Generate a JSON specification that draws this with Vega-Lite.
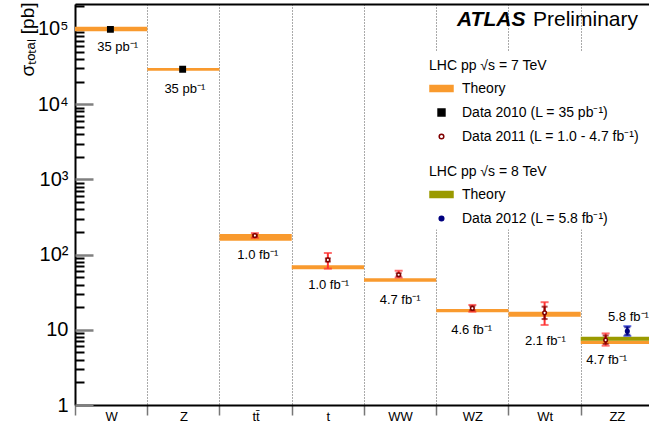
{
  "$schema": "https://vega.github.io/schema/vega-lite/v6.json",
  "width": 574,
  "height": 401,
  "autosize": {"type": "none"},
  "padding": {"left": 75, "top": 4, "right": 0, "bottom": 22},
  "background": "white",
  "config": {
    "font": "Liberation Sans",
    "view": {"stroke": null},
    "axis": {"labelFont": "Liberation Sans", "titleFont": "Liberation Sans"},
    "legend": {"labelFont": "Liberation Sans", "titleFont": "Liberation Sans"}
  },
  "datasets": {
    "theory7": [
      {"proc": "W", "x0": 0, "x1": 1, "lo": 93000, "hi": 107000},
      {"proc": "Z", "x0": 1, "x1": 2, "lo": 27900, "hi": 30300},
      {"proc": "tt", "x0": 2, "x1": 3, "lo": 153, "hi": 188},
      {"proc": "t", "x0": 3, "x1": 4, "lo": 64, "hi": 72},
      {"proc": "WW", "x0": 4, "x1": 5, "lo": 43.6, "hi": 48.4},
      {"proc": "WZ", "x0": 5, "x1": 6, "lo": 17.1, "hi": 18.9},
      {"proc": "Wt", "x0": 6, "x1": 7, "lo": 14.9, "hi": 17.4},
      {"proc": "ZZ", "x0": 7, "x1": 8, "lo": 6.47, "hi": 7.17}
    ],
    "theory8": [
      {"proc": "ZZ", "x0": 7, "x1": 8, "lo": 7.17, "hi": 8.09}
    ],
    "data7": [
      {"proc": "W", "year": 2010, "series": "Data 2010 (L = 35 pb⁻¹)", "pos": 0.49, "val": 99000},
      {"proc": "Z", "year": 2010, "series": "Data 2010 (L = 35 pb⁻¹)", "pos": 1.49, "val": 29100},
      {"proc": "tt", "year": 2011, "series": "Data 2011 (L = 1.0 - 4.7 fb⁻¹)", "pos": 2.49, "val": 179, "slo": 174, "shi": 184, "tlo": 167, "thi": 193},
      {"proc": "t", "year": 2011, "series": "Data 2011 (L = 1.0 - 4.7 fb⁻¹)", "pos": 3.5, "val": 85, "slo": 81, "shi": 89, "tlo": 65, "thi": 105},
      {"proc": "WW", "year": 2011, "series": "Data 2011 (L = 1.0 - 4.7 fb⁻¹)", "pos": 4.48, "val": 54, "slo": 51.5, "shi": 56.5, "tlo": 49.5, "thi": 61},
      {"proc": "WZ", "year": 2011, "series": "Data 2011 (L = 1.0 - 4.7 fb⁻¹)", "pos": 5.5, "val": 19.3, "slo": 18.2, "shi": 20.5, "tlo": 17.4, "thi": 21.4},
      {"proc": "Wt", "year": 2011, "series": "Data 2011 (L = 1.0 - 4.7 fb⁻¹)", "pos": 6.5, "val": 16.8, "slo": 13.9, "shi": 20.3, "tlo": 11.6, "thi": 23.3},
      {"proc": "ZZ", "year": 2011, "series": "Data 2011 (L = 1.0 - 4.7 fb⁻¹)", "pos": 7.345, "val": 7.3, "slo": 6.5, "shi": 8.4, "tlo": 6.15, "thi": 8.95}
    ],
    "data8": [
      {"proc": "ZZ", "year": 2012, "series": "Data 2012 (L = 5.8 fb⁻¹)", "pos": 7.645, "val": 9.6, "slo": 8.6, "shi": 10.8, "tlo": 8.3, "thi": 11.2}
    ],
    "lumi": [
      {"label": "35 pb⁻¹", "pos": 0.59, "y": 56800},
      {"label": "35 pb⁻¹", "pos": 1.52, "y": 15900},
      {"label": "1.0 fb⁻¹", "pos": 2.53, "y": 99},
      {"label": "1.0 fb⁻¹", "pos": 3.51, "y": 39.4},
      {"label": "4.7 fb⁻¹", "pos": 4.5, "y": 24.9},
      {"label": "4.6 fb⁻¹", "pos": 5.49, "y": 9.93},
      {"label": "2.1 fb⁻¹", "pos": 6.51, "y": 7.1},
      {"label": "4.7 fb⁻¹", "pos": 7.36, "y": 3.97},
      {"label": "5.8 fb⁻¹", "pos": 7.66, "y": 14.8}
    ]
  },
  "resolve": {
    "scale": {"shape": "independent", "fill": "independent", "stroke": "independent"},
    "axis": {"x": "independent", "y": "independent"}
  },
  "layer": [
    {
      "data": {"name": "theory7"},
      "mark": {"type": "rect", "color": "#f99a2e", "clip": true},
      "encoding": {
        "x": {"field": "x0", "type": "quantitative",
          "scale": {"domain": [0, 7.945], "nice": false, "zero": false},
          "axis": {"orient": "bottom", "values": [0, 1, 2, 3, 4, 5, 6, 7], "labels": false, "ticks": true, "tickSize": 10, "tickColor": "#777777", "tickWidth": 1.5, "grid": true, "gridDash": [1, 2], "gridColor": "#555555", "gridWidth": 1, "domain": true, "domainColor": "black", "domainWidth": 2, "title": null}},
        "x2": {"field": "x1"},
        "y": {"field": "lo", "type": "quantitative",
          "scale": {"type": "log", "domain": [1, 215000], "nice": false},
          "axis": {"orient": "left", "values": [1, 10, 100, 1000, 10000, 100000],
            "labelExpr": "datum.value == 1 ? '1' : datum.value == 10 ? '10' : datum.value == 100 ? '10²' : datum.value == 1000 ? '10³' : datum.value == 10000 ? '10⁴' : '10⁵'",
            "labelFontSize": 20, "labelColor": "black", "labelPadding": 7, "labelBaseline": "middle",
            "ticks": false,
            "domain": true, "domainColor": "black", "domainWidth": 2, "grid": false,
            "title": "σₜₒₜₐₗ [pb]", "titleFontSize": 19, "titleFontWeight": "normal", "titleColor": "black",
            "titleX": -48, "titleY": -2, "titleAlign": "right", "titleAngle": -90, "titleBaseline": "middle"}},
        "y2": {"field": "hi"}
      }
    },
    {
      "data": {"name": "theory8"},
      "mark": {"type": "rect", "color": "#9a9a00", "clip": true},
      "encoding": {
        "x": {"field": "x0", "type": "quantitative",
          "axis": {"orient": "bottom", "values": [0.5, 1.5, 2.5, 3.5, 4.5, 5.5, 6.5, 7.5],
            "labelExpr": "['W', 'Z', 'tt̄', 't', 'WW', 'WZ', 'Wt', 'ZZ'][floor(datum.value)]",
            "ticks": false, "domain": false, "grid": false, "labelFontSize": 13, "labelPadding": 5, "labelColor": "black", "labelFlush": false, "title": null}},
        "x2": {"field": "x1"},
        "y": {"field": "lo", "type": "quantitative", "axis": null},
        "y2": {"field": "hi"}
      }
    },
    {
      "data": {"name": "data7"},
      "transform": [{"filter": "datum.year == 2011"}],
      "mark": {"type": "errorbar", "ticks": true, "size": 8, "thickness": 2, "color": "#ff3030"},
      "encoding": {
        "x": {"field": "pos", "type": "quantitative", "axis": null},
        "y": {"field": "tlo", "type": "quantitative", "axis": null},
        "y2": {"field": "thi"}
      }
    },
    {
      "data": {"name": "data7"},
      "transform": [{"filter": "datum.year == 2011"}],
      "mark": {"type": "errorbar", "ticks": true, "size": 6, "thickness": 2, "color": "#8b0000"},
      "encoding": {
        "x": {"field": "pos", "type": "quantitative", "axis": null},
        "y": {"field": "slo", "type": "quantitative", "axis": null},
        "y2": {"field": "shi"}
      }
    },
    {
      "data": {"name": "data8"},
      "mark": {"type": "errorbar", "ticks": true, "size": 8, "thickness": 2, "color": "#2b3bd6"},
      "encoding": {
        "x": {"field": "pos", "type": "quantitative", "axis": null},
        "y": {"field": "tlo", "type": "quantitative", "axis": null},
        "y2": {"field": "thi"}
      }
    },
    {
      "data": {"name": "data8"},
      "mark": {"type": "errorbar", "ticks": true, "size": 6, "thickness": 2, "color": "#00007f"},
      "encoding": {
        "x": {"field": "pos", "type": "quantitative", "axis": null},
        "y": {"field": "slo", "type": "quantitative", "axis": null},
        "y2": {"field": "shi"}
      }
    },
    {
      "data": {"name": "data7"},
      "mark": {"type": "point", "filled": true, "size": 324, "strokeWidth": 1.5, "opacity": 1},
      "encoding": {
        "x": {"field": "pos", "type": "quantitative", "axis": null},
        "y": {"field": "val", "type": "quantitative", "axis": null},
        "shape": {"field": "series", "type": "nominal",
          "scale": {"domain": ["Theory", "Data 2010 (L = 35 pb⁻¹)", "Data 2011 (L = 1.0 - 4.7 fb⁻¹)"],
            "range": ["M-1,-0.27L1,-0.27L1,0.27L-1,0.27Z", "M-0.3,-0.3L0.3,-0.3L0.3,0.3L-0.3,0.3Z", "M0.2,0A0.2,0.2 0 1,1 -0.2,0A0.2,0.2 0 1,1 0.2,0Z"]},
          "legend": {"title": "LHC pp √s = 7 TeV", "orient": "none", "legendX": 346, "legendY": 47, "padding": 8, "fillColor": "white", "symbolSize": 529, "symbolStrokeWidth": 1.5, "labelFontSize": 14, "labelColor": "black", "labelLimit": 400, "labelOffset": 8, "titleFontSize": 14, "titleFontWeight": "normal", "titleColor": "black", "titlePadding": 3, "rowPadding": 4, "titleLimit": 400}},
        "fill": {"field": "series", "type": "nominal",
          "scale": {"domain": ["Theory", "Data 2010 (L = 35 pb⁻¹)", "Data 2011 (L = 1.0 - 4.7 fb⁻¹)"], "range": ["#f99a2e", "black", "white"]},
          "legend": {"title": "LHC pp √s = 7 TeV", "orient": "none", "legendX": 346, "legendY": 47, "padding": 8, "fillColor": "white", "symbolSize": 529, "symbolStrokeWidth": 1.5, "labelFontSize": 14, "labelColor": "black", "labelLimit": 400, "labelOffset": 8, "titleFontSize": 14, "titleFontWeight": "normal", "titleColor": "black", "titlePadding": 3, "rowPadding": 4, "titleLimit": 400}},
        "stroke": {"field": "series", "type": "nominal",
          "scale": {"domain": ["Theory", "Data 2010 (L = 35 pb⁻¹)", "Data 2011 (L = 1.0 - 4.7 fb⁻¹)"], "range": ["#f99a2e", "black", "#800000"]},
          "legend": {"title": "LHC pp √s = 7 TeV", "orient": "none", "legendX": 346, "legendY": 47, "padding": 8, "fillColor": "white", "symbolSize": 529, "symbolStrokeWidth": 1.5, "labelFontSize": 14, "labelColor": "black", "labelLimit": 400, "labelOffset": 8, "titleFontSize": 14, "titleFontWeight": "normal", "titleColor": "black", "titlePadding": 3, "rowPadding": 4, "titleLimit": 400}}
      }
    },
    {
      "data": {"name": "data8"},
      "mark": {"type": "point", "filled": true, "size": 324, "strokeWidth": 1.5, "opacity": 1},
      "encoding": {
        "x": {"field": "pos", "type": "quantitative", "axis": null},
        "y": {"field": "val", "type": "quantitative", "axis": null},
        "shape": {"field": "series", "type": "nominal",
          "scale": {"domain": ["Theory", "Data 2012 (L = 5.8 fb⁻¹)"],
            "range": ["M-1,-0.27L1,-0.27L1,0.27L-1,0.27Z", "M0.2,0A0.2,0.2 0 1,1 -0.2,0A0.2,0.2 0 1,1 0.2,0Z"]},
          "legend": {"title": ["", "LHC pp √s = 8 TeV"], "titleLineHeight": 10.5, "orient": "none", "legendX": 350, "legendY": 146.5, "padding": 4, "fillColor": "white", "symbolSize": 529, "symbolStrokeWidth": 1.5, "labelFontSize": 14, "labelColor": "black", "labelLimit": 400, "labelOffset": 8, "titleFontSize": 14, "titleFontWeight": "normal", "titleColor": "black", "titlePadding": 3, "rowPadding": 4, "titleLimit": 400}},
        "fill": {"field": "series", "type": "nominal",
          "scale": {"domain": ["Theory", "Data 2012 (L = 5.8 fb⁻¹)"], "range": ["#9a9a00", "#00007f"]},
          "legend": {"title": ["", "LHC pp √s = 8 TeV"], "titleLineHeight": 10.5, "orient": "none", "legendX": 350, "legendY": 146.5, "padding": 4, "fillColor": "white", "symbolSize": 529, "symbolStrokeWidth": 1.5, "labelFontSize": 14, "labelColor": "black", "labelLimit": 400, "labelOffset": 8, "titleFontSize": 14, "titleFontWeight": "normal", "titleColor": "black", "titlePadding": 3, "rowPadding": 4, "titleLimit": 400}},
        "stroke": {"field": "series", "type": "nominal",
          "scale": {"domain": ["Theory", "Data 2012 (L = 5.8 fb⁻¹)"], "range": ["#9a9a00", "#00007f"]},
          "legend": {"title": ["", "LHC pp √s = 8 TeV"], "titleLineHeight": 10.5, "orient": "none", "legendX": 350, "legendY": 146.5, "padding": 4, "fillColor": "white", "symbolSize": 529, "symbolStrokeWidth": 1.5, "labelFontSize": 14, "labelColor": "black", "labelLimit": 400, "labelOffset": 8, "titleFontSize": 14, "titleFontWeight": "normal", "titleColor": "black", "titlePadding": 3, "rowPadding": 4, "titleLimit": 400}}
      }
    },
    {
      "data": {"name": "lumi"},
      "mark": {"type": "text", "fontSize": 13, "color": "black", "align": "center", "baseline": "middle"},
      "encoding": {
        "x": {"field": "pos", "type": "quantitative",
          "axis": {"orient": "top", "domain": true, "domainColor": "black", "domainWidth": 2, "ticks": false, "labels": false, "grid": false, "title": null}},
        "y": {"field": "y", "type": "quantitative",
          "axis": {"orient": "left", "offset": -18, "values": [1, 10, 100, 1000, 10000, 100000], "labels": false, "ticks": true, "tickSize": 18, "tickColor": "#808080", "tickWidth": 2.5, "domain": false, "grid": false, "title": null}},
        "text": {"field": "label"}
      }
    },
    {
      "data": {"values": [{"label": "ATLAS", "pos": 5.287, "y": 131800}]},
      "mark": {"type": "text", "fontSize": 21, "fontWeight": "bold", "fontStyle": "italic", "color": "black", "align": "left", "baseline": "middle"},
      "encoding": {
        "x": {"field": "pos", "type": "quantitative", "axis": null},
        "y": {"field": "y", "type": "quantitative", "axis": null},
        "text": {"field": "label"}
      }
    },
    {
      "data": {"values": [{"label": "Preliminary", "pos": 6.339, "yv": 131800}]},
      "mark": {"type": "text", "fontSize": 21, "color": "black", "align": "left", "baseline": "middle"},
      "encoding": {
        "x": {"field": "pos", "type": "quantitative", "axis": null},
        "y": {"field": "yv", "type": "quantitative",
          "axis": {"orient": "left", "offset": -9, "values": [2, 3, 4, 5, 6, 7, 8, 9, 20, 30, 40, 50, 60, 70, 80, 90, 200, 300, 400, 500, 600, 700, 800, 900, 2000, 3000, 4000, 5000, 6000, 7000, 8000, 9000, 20000, 30000, 40000, 50000, 60000, 70000, 80000, 90000, 200000],
            "labels": false, "ticks": true, "tickSize": 9, "tickColor": "black", "tickWidth": 2, "domain": false, "grid": false, "title": null}},
        "text": {"field": "label"}
      }
    }
  ]
}
